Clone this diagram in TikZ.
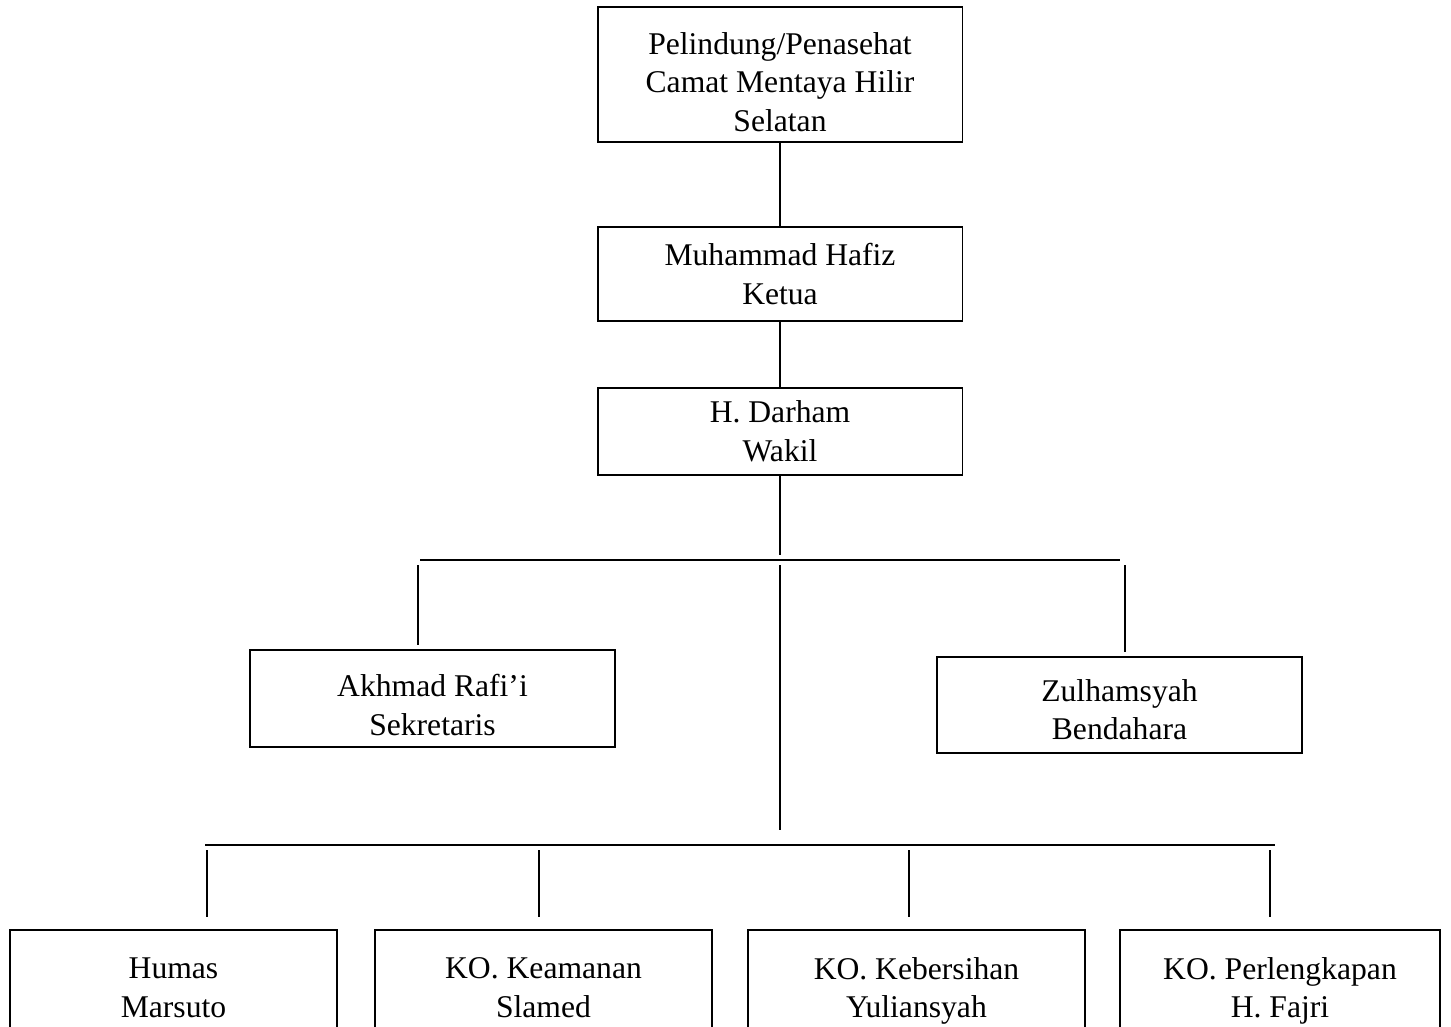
\documentclass[tikz,border=0pt]{standalone}
\usepackage{fontspec}
\setmainfont{Liberation Serif}
\usepackage{tikz}
\usetikzlibrary{calc}
\tikzset{
  jabatan/.style={draw, line width=1.1pt, align=center, inner sep=0pt,
    font=\fontsize{18}{22}\selectfont},
  seksi/.style={jabatan, minimum height=2.44cm, text depth=4pt},
  garis/.style={line width=1.1pt},
}

\begin{document}
\begin{tikzpicture}[x=0.02cm, y=-0.02cm]
			%%%%% START %%%%%
			\useasboundingbox (0, 0) rectangle (1451, 1027);
			\clip (0, 0) rectangle (1451, 1027);
			
			\node[jabatan, minimum width=7.3cm, minimum height=2.7cm] (pelindung) at (780, 74.5) {\rule{0pt}{21pt}Pelindung/Penasehat\\Camat Mentaya Hilir\\Selatan};
			\node[jabatan, minimum width=7.3cm, minimum height=1.88cm] (ketua) at (780, 274) {Muhammad Hafiz\\Ketua};
			\node[jabatan, minimum width=7.3cm, minimum height=1.74cm] (wakil) at (780, 431.5) {H. Darham\\Wakil};
			
			\node[jabatan, minimum width=7.3cm, minimum height=1.94cm] (sekretaris) at (432.5, 698.5) {\rule{0pt}{20pt}Akhmad Rafi’i\\Sekretaris};
			\node[jabatan, minimum width=7.3cm, minimum height=1.92cm] (bendahara) at (1119.5, 705) {\rule{0pt}{18pt}Zulhamsyah\\Bendahara};
			
			\node[seksi, minimum width=6.54cm] (humas) at (173.5, 991) {Humas\\Marsuto};
			\node[seksi, minimum width=6.74cm] (keamanan) at (543.5, 991) {KO. Keamanan\\Slamed};
			\node[seksi, minimum width=6.74cm] (kebersihan) at (916.5, 991) {KO. Kebersihan\\Yuliansyah};
			\node[seksi, minimum width=6.4cm] (perlengkapan) at (1280, 991) {KO. Perlengkapan\\H. Fajri};
			
			% garis atas
			\draw[garis] (pelindung.south) -- (ketua.north);
			\draw[garis] (ketua.south) -- (wakil.north);
			\coordinate (w1) at (780, 555);
			\draw[garis] (wakil.south) -- (w1);
			
			% cabang sekretaris / bendahara
			\coordinate (b1l) at (420, 560);
			\coordinate (b1r) at (1120, 560);
			\draw[line width=1.4pt] (b1l) -- (b1r);
			\coordinate (s1) at (418, 565);
			\coordinate (s2) at (418, 645);
			\draw[garis] (s1) -- (s2);
			\coordinate (d1) at (1125, 565);
			\coordinate (d2) at (1125, 652);
			\draw[garis] (d1) -- (d2);
			\coordinate (m1) at (780, 565);
			\coordinate (m2) at (780, 830);
			\draw[garis] (m1) -- (m2);
			
			% cabang seksi
			\coordinate (b2l) at (205, 845);
			\coordinate (b2r) at (1275, 845);
			\draw[line width=1.4pt] (b2l) -- (b2r);
			\foreach \nama/\xx in {humas/207, keamanan/539, kebersihan/909, perlengkapan/1270}{
				\coordinate (t-\nama) at (\xx, 850);
				\draw[garis] (t-\nama) -- ($(t-\nama |- \nama.north)+(0,-12)$);
			}
			
			%%%%% END %%%%%
\end{tikzpicture}
\end{document}
